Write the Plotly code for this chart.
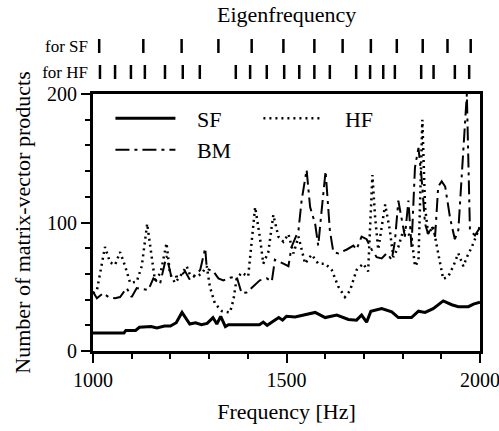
import plotly.graph_objects as go

# ---- data ----
sf_x = [1000, 1080, 1085, 1110, 1120, 1150, 1165, 1185, 1200, 1215, 1230, 1250, 1265, 1280, 1295,
        1310, 1320, 1330, 1342, 1350, 1430, 1440, 1450, 1470, 1480, 1490, 1500, 1522, 1548, 1574,
        1600, 1630, 1660, 1681, 1694, 1707, 1718, 1746, 1772, 1789, 1823, 1841, 1858, 1879, 1905,
        1927, 1944, 1970, 1983, 2000]
sf_y = [14, 14, 16, 16, 18.5, 19, 18, 19.5, 19.5, 22, 30, 21, 22, 20.5, 21.5,
        26, 21, 27, 19, 20.5, 20.5, 22.5, 20, 24, 26, 24, 27, 26.5, 28, 30,
        26, 28, 24.5, 24, 28, 22.5, 31, 33, 30.5, 26, 26, 31, 30, 33, 39,
        36, 34.5, 34.5, 36.5, 38]

hf_x = [1000, 1010, 1031, 1044, 1057, 1070, 1083, 1096, 1113, 1126, 1140, 1152, 1160, 1175, 1190,
        1199, 1212, 1225, 1242, 1251, 1268, 1280, 1294, 1302, 1315, 1333, 1354, 1363, 1371, 1384,
        1401, 1419, 1431, 1440, 1453, 1466, 1479, 1492, 1505, 1518, 1531, 1548, 1565, 1582, 1600,
        1617, 1634, 1651, 1664, 1681, 1698, 1711, 1722, 1729, 1737, 1755, 1767, 1776, 1789, 1802,
        1823, 1832, 1841, 1851, 1858, 1866, 1879, 1892, 1905, 1918, 1931, 1944, 1957, 1966, 1979,
        2000]
hf_y = [45, 47, 81, 69, 67, 77, 66, 53, 54, 66, 99, 72, 55, 61, 84,
        60, 53, 58, 66, 59, 58, 60, 66, 50, 37, 31, 30, 40, 56, 61,
        58, 112, 89, 68, 77, 106, 89, 85, 91, 76, 89, 68, 75, 68, 68,
        63, 50, 42, 47, 63, 68, 62, 137, 104, 79, 114, 94, 73, 81, 94,
        89, 66, 70, 180, 112, 91, 97, 76, 56, 58, 66, 76, 66, 73, 81,
        97]

bm_x = [1000, 1010, 1026, 1040, 1057, 1070, 1087, 1100, 1113, 1143, 1156, 1173, 1190, 1203, 1216,
        1225, 1238, 1251, 1264, 1277, 1290, 1294, 1311, 1324, 1337, 1354, 1371, 1384, 1397, 1410,
        1431, 1449, 1462, 1470, 1483, 1492, 1505, 1513, 1531, 1539, 1552, 1561, 1574, 1582, 1591,
        1601, 1612, 1621, 1634, 1656, 1673, 1681, 1694, 1707, 1720, 1733, 1746, 1759, 1772, 1780,
        1789, 1798, 1806, 1815, 1823, 1832, 1841, 1849, 1858, 1866, 1875, 1884, 1892, 1901, 1910,
        1923, 1935, 1944, 1953, 1961, 1966, 1974, 1987, 2000]
bm_y = [46, 41, 45, 42, 41, 42, 49, 42, 49, 47.5, 56.5, 52, 74, 57, 58,
        58, 62, 55, 59, 63, 80, 64, 62, 56.5, 55, 57, 58, 45, 45.5, 49,
        55, 56.5, 54, 71, 69.5, 68, 66, 81, 94, 117, 141, 112, 99, 82, 110,
        140, 94, 77, 76, 79, 82, 79, 89, 87, 79, 73, 72, 76, 71, 85,
        117, 102, 89, 117, 81, 143, 158, 135, 99, 91, 97, 89, 128, 132, 128,
        103, 87, 94, 135, 177, 200, 94, 90, 96]

eig_sf = [1016, 1130, 1229, 1324, 1410, 1492, 1572, 1645, 1718, 1785, 1852, 1916, 1976]
eig_hf = [1018, 1057, 1098, 1134, 1186, 1232, 1276, 1369, 1406, 1449, 1494, 1533, 1572, 1612,
          1680, 1716, 1750, 1780, 1848, 1880, 1935, 1972]

x_ticks = [1000, 1500, 2000]
y_ticks = [0, 100, 200]

FONT = "Liberation Serif"
PAD = "\u00a0\u00a0\u00a0"

fig = go.Figure()
fig.add_trace(go.Scatter(x=sf_x, y=sf_y, mode="lines", name=PAD + "SF",
                         line=dict(color="black", width=3)))
fig.add_trace(go.Scatter(x=hf_x, y=hf_y, mode="lines", name=PAD + "HF",
                         line=dict(color="black", width=2.5, dash="2px,4px")))
fig.add_trace(go.Scatter(x=bm_x, y=bm_y, mode="lines", name=PAD + "BM",
                         line=dict(color="black", width=2, dash="14px,5px,3px,5px")))

fig.add_trace(go.Scatter(x=eig_sf, y=["for SF"] * len(eig_sf), yaxis="y2", mode="markers",
                         showlegend=False,
                         marker=dict(symbol="line-ns", size=10,
                                     line=dict(color="black", width=2.5))))
fig.add_trace(go.Scatter(x=eig_hf, y=["for HF"] * len(eig_hf), yaxis="y2", mode="markers",
                         showlegend=False,
                         marker=dict(symbol="line-ns", size=10,
                                     line=dict(color="black", width=2.5))))

fig.update_layout(
    template="none",
    width=499, height=431,
    margin=dict(l=93, r=19, t=30, b=80, autoexpand=False),
    paper_bgcolor="white", plot_bgcolor="white",
    font=dict(family=FONT, size=20, color="black"),
    showlegend=True,
    legend=dict(orientation="h", x=0.045, y=0.79, xanchor="left", yanchor="top",
                entrywidth=73, entrywidthmode="pixels", itemwidth=60,
                bgcolor="rgba(0,0,0,0)", font=dict(family=FONT, size=22, color="black"),
                tracegroupgap=0),
    xaxis=dict(range=[1000, 2000], tickvals=x_ticks, ticks="outside", ticklen=9,
               tickwidth=2, tickcolor="black", showline=True, linewidth=3,
               linecolor="black", mirror=True, showgrid=False, zeroline=False,
               automargin=False, ticklabeloverflow="allow",
               minor=dict(dtick=100, ticks="outside", ticklen=5, tickwidth=1.5,
                          tickcolor="black", showgrid=False),
               title=dict(text="Frequency [Hz]", standoff=14,
                          font=dict(family=FONT, size=22, color="black")),
               tickfont=dict(family=FONT, size=20, color="black")),
    yaxis=dict(domain=[0, 0.8006], range=[0, 200], tickvals=y_ticks, ticks="outside",
               ticklen=9, tickwidth=2, tickcolor="black", showline=True, linewidth=3,
               linecolor="black", mirror=True, showgrid=False, zeroline=False,
               automargin=False, ticklabeloverflow="allow",
               minor=dict(dtick=20, ticks="outside", ticklen=5, tickwidth=1.5,
                          tickcolor="black", showgrid=False),
               title=dict(text="Number of matrix-vector products", standoff=11,
                          font=dict(family=FONT, size=22, color="black")),
               tickfont=dict(family=FONT, size=20, color="black")),
    yaxis2=dict(domain=[0.8287, 0.9907], anchor="x", type="category",
                categoryorder="array", categoryarray=["for HF", "for SF"],
                range=[-0.5, 1.5], showline=False, showgrid=False, zeroline=False,
                automargin=False, ticklabeloverflow="allow",
                ticks="", tickfont=dict(family=FONT, size=17, color="black"),
                ticklabelstandoff=4),
    annotations=[dict(text="Eigenfrequency", x=0.5, y=1.0498, xref="paper", yref="paper",
                      xanchor="center", yanchor="middle", showarrow=False,
                      font=dict(family=FONT, size=22, color="black"))],
)

fig.write_html("out.html", config={"displayModeBar": False},
               post_script="document.body.style.margin='0';")
